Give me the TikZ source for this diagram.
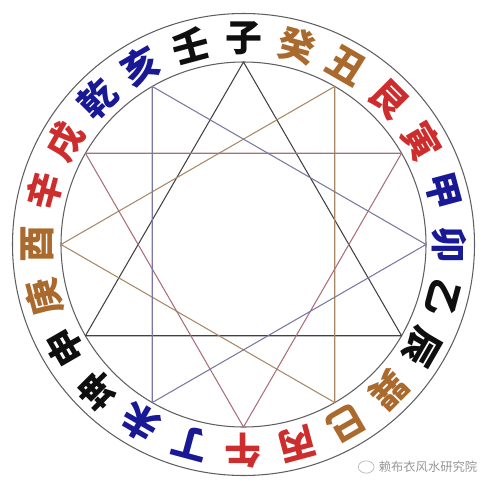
\documentclass[tikz,border=0pt]{standalone}
\usepackage{fontspec}
\usepackage{xcolor}
\usepackage{tikz}
\usetikzlibrary{positioning,shapes.geometric}
\newfontfamily\cjk{Noto Sans CJK SC}
\definecolor{shuiblack}{RGB}{15,15,15}
\definecolor{jinbrown}{RGB}{170,105,45}
\definecolor{huored}{RGB}{205,45,45}
\definecolor{mublue}{RGB}{25,25,150}
\definecolor{ringgray}{RGB}{95,95,95}
\definecolor{waterline}{RGB}{65,65,70}
\definecolor{metalline}{RGB}{170,135,100}
\definecolor{fireline}{RGB}{170,110,120}
\definecolor{woodline}{RGB}{120,120,160}
\definecolor{markgray}{RGB}{150,150,150}

\tikzset{
  shan/.style={inner sep=0pt, font=\cjk\bfseries\fontsize{21}{21}\selectfont},
  sanhe/.style={line width=0.6pt, line join=round},
  wmtext/.style={inner sep=0pt, text=markgray, font=\cjk\fontsize{7}{7}\selectfont}
}

\begin{document}
\begin{tikzpicture}[x=0.02cm,y=0.02cm]
\useasboundingbox (-243.5,-245.5) rectangle (248.5,244.5);
% Two rings
\draw[ringgray, line width=0.6pt] (0,0) circle (231);
\draw[ringgray, line width=0.6pt] (0,0) circle (182.5);

% Twenty-four mountains, tops facing outwards
\foreach \ch/\col [count=\i from 0] in {子/shuiblack,癸/jinbrown,丑/jinbrown,艮/huored,寅/huored,甲/mublue,卯/mublue,乙/shuiblack,辰/shuiblack,巽/jinbrown,巳/jinbrown,丙/huored,午/huored,丁/mublue,未/mublue,坤/shuiblack,申/shuiblack,庚/jinbrown,酉/jinbrown,辛/huored,戌/huored,乾/mublue,亥/mublue,壬/shuiblack}
  \node[shan, text=\col, rotate={-15*\i}] (shan\i) at ({90-15*\i}:206) {\ch};

% Twelve branch points on the inner ring
\foreach \nm [count=\i from 0] in {zi,chou,yin,mao,chen,si,wu,wei,shen,you,xu,hai}
  \coordinate (\nm) at ({90-30*\i}:182.5);

% Four triangles
\draw[sanhe, waterline] (shen) -- (zi) -- (chen) -- cycle;
\draw[sanhe, metalline] (si) -- (you) -- (chou) -- cycle;
\draw[sanhe, fireline] (yin) -- (wu) -- (xu) -- cycle;
\draw[sanhe, woodline] (hai) -- (mao) -- (wei) -- cycle;

% Watermark
\node[wmtext] (wm) at (184.5,-222.5) {赖布衣风水研究院};
\node[draw=markgray!70, ellipse, minimum width=9, minimum height=7, inner sep=0pt, line width=0.4pt, left=4 of wm] (icon) {};
\end{tikzpicture}
\end{document}
